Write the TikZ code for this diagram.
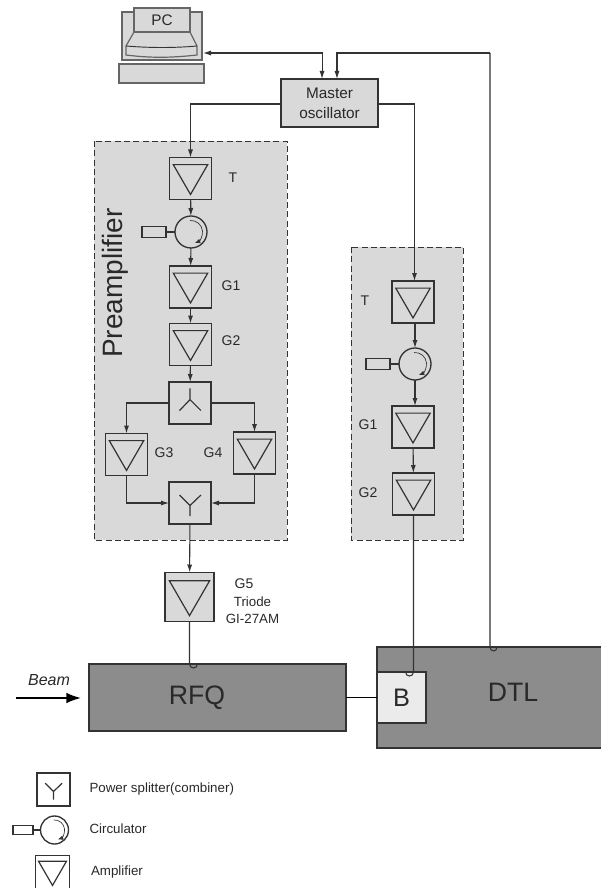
\documentclass[tikz,border=0pt]{standalone}
\usepackage{fontspec}
\setmainfont{Liberation Sans}
\usetikzlibrary{arrows.meta}
\definecolor{panel}{HTML}{D9D9D9}
\definecolor{cavity}{HTML}{8C8C8C}
\definecolor{ink}{HTML}{333333}
\begin{document}
\begin{tikzpicture}[
    x=0.75pt, y=-0.75pt,
    font=\fontsize{10.5}{12}\selectfont,
    every node/.style={text=ink!80!black, inner sep=0pt, outer sep=0pt},
    block/.style={rectangle, draw=ink, line width=1pt, fill=panel},
    amp/.style={block, minimum size=#1*0.75pt, path picture={
        \draw[ink, line width=0.9pt, line join=miter, shift={(path picture bounding box.center)}, x=#1*0.75pt, y=#1*0.75pt]
            (-.41,.33) -- (.41,.33) -- (0,-.38) -- cycle;}},
    amp/.default=42,
    combiner/.style={block, minimum size=#1*0.75pt, path picture={
        \draw[ink, line width=0.9pt, shift={(path picture bounding box.center)}, x=#1*0.75pt, y=#1*0.75pt]
            (-.25,.19) -- (0,-.06) -- (.26,.19) (0,-.06) -- (0,-.31);}},
    combiner/.default=42,
    splitter/.style={block, minimum size=#1*0.75pt, path picture={
        \draw[ink, line width=0.9pt, shift={(path picture bounding box.center)}, x=#1*0.75pt, y=#1*0.75pt]
            (-.25,-.18) -- (0,.08) -- (.26,-.18) (0,.08) -- (0,.35);}},
    splitter/.default=42,
    circulator/.style={block, circle, minimum size=#1*0.75pt, path picture={
        \draw[ink, line width=0.5pt, -{Latex[length=4pt,width=3.5pt]}, shift={(path picture bounding box.center)}, x=#1*0.75pt, y=#1*0.75pt]
            (95:.36) arc (95:-70:.36);}},
    circulator/.default=32,
    load/.style={block, line width=0.8pt, minimum width=#1*0.75pt, minimum height=#1*0.33pt},
    load/.default=24,
    cavitybox/.style={block, fill=cavity},
    group/.style={draw=ink, dash pattern=on 4.5pt off 2.5pt, line width=0.7pt, fill=panel},
    wire/.style={draw=ink, line width=0.8pt},
    arrow/.style={wire, -{Latex[length=6pt,width=3.8pt]}},
    pcpart/.style={block, draw=ink!75, line width=0.9pt},
    legend/.style={fill=white},
    bigtext/.style={font=\fontsize{20}{24}\selectfont}
]
\useasboundingbox (0,0) rectangle (600,888);

% Dashed groups
\draw[group] (94,141) rectangle (287,540);
\draw[group] (351,247) rectangle (463,540);

% PC
\node[pcpart, minimum width=80*0.75pt, minimum height=48*0.75pt] (pc) at (162,36) {};
\draw[pcpart] (134,32) -- (190,32) -- (197,46) -- (197,55) .. controls (170,58) and (150,58) .. (126,55) -- (126,46) -- cycle;
\draw[ink, line width=0.7pt] (126,46) .. controls (150,48) and (175,48) .. (197,46);
\node[pcpart, minimum width=56*0.75pt, minimum height=24*0.75pt, font=\fontsize{11.5}{12}\selectfont] (screen) at (162,20) {PC};
\node[pcpart, minimum width=85*0.75pt, minimum height=19*0.75pt] (keys) at (161.5,73.5) {};
\coordinate (pcport) at (203,53);

% Master oscillator
\node[block, minimum width=97*0.75pt, minimum height=48*0.75pt, align=center, font=\fontsize{11.5}{15}\selectfont] (master) at (329.5,103) {Master\\oscillator};

% Preamplifier chain
\node[amp]  (T) at (190.5,178.5) {};
\node[circulator] (C) at (191,232) {};
\node[load] (L) at (154,232) {};
\node[amp]  (G1) at (190.5,287) {};
\node[amp]  (G2) at (190.5,344.5) {};
\node[splitter] (S) at (190,403) {};
\node[amp]  (G3) at (126.5,454.5) {};
\node[amp]  (G4) at (254.5,453) {};
\node[combiner] (M) at (190,503) {};
\node[amp=49] (G5) at (189.5,597) {};

\node (lT) at (233,178) {T};
\node (lG1) at (231,286) {G1};
\node (lG2) at (231,341) {G2};
\node (lG3) at (164,453) {G3};
\node (lG4) at (213,453) {G4};
\node[rotate=90, font=\fontsize{21}{24}\selectfont] (lPre) at (115,283) {Preamplifier};
\node (lG5) at (244,584) {G5};
\node[align=center, font=\fontsize{10}{12.75}\selectfont] (lTri) at (252.5,610.5) {Triode\\GI-27AM};

% Second chain
\node[amp]  (TB) at (413,302) {};
\node[circulator] (CB) at (415,364) {};
\node[load] (LB) at (378,364) {};
\node[amp]  (G1B) at (413,427) {};
\node[amp]  (G2B) at (413.5,494) {};

\node (lTB) at (365,301) {T};
\node (lG1B) at (368,425) {G1};
\node (lG2B) at (368,493) {G2};

% Cavities
\node[cavitybox, minimum width=257*0.75pt, minimum height=67*0.75pt] (rfq) at (217.5,697.5) {};
\node[bigtext] (lrfq) at (197,698) {RFQ};
\node[cavitybox, minimum width=228*0.75pt, minimum height=101*0.75pt] (dtl) at (491,697.5) {};
\node[bigtext] (ldtl) at (513,692) {DTL};
\node[block, fill=black!8, minimum width=49*0.75pt, minimum height=51*0.75pt, font=\fontsize{19}{24}\selectfont] (buncher) at (401.5,697.5) {B};
\node[font=\fontsize{12}{14}\selectfont\itshape] (lbeam) at (49,680) {Beam};
\coordinate (beamin) at (16,698);
\coordinate (beamout) at (81,698);

% Connectors
\coordinate (turnA) at (190.5,104);
\coordinate (turnB) at (414.5,104);
\coordinate (turnC) at (490,53);
\draw[arrow, {Latex[length=6pt,width=3.8pt]}-{Latex[length=6pt,width=3.8pt]}] (pcport) -| ([xshift=-5.6pt]master.north);
\draw[arrow] (turnC) -- ([xshift=5.6pt]master.north |- turnC) -- ([xshift=5.6pt]master.north);
\draw[wire] (turnC) -- (turnC |- dtl.north) .. controls +(0,5.3) and +(0,5.3) .. +(7,0);
\draw[arrow] (master.west |- turnA) -- (turnA) -- (turnA |- T.north);
\draw[arrow] (master.east |- turnB) -- (turnB) -- (turnB |- TB.north);

\draw[arrow] (T) -- (C);
\draw[wire] (L) -- (C);
\draw[arrow] (C) -- (G1);
\draw[arrow] (G1) -- (G2);
\draw[arrow] (G2) -- (S);
\draw[arrow] (S.west) -| (G3.north);
\draw[arrow] (S.east) -| (G4.north);
\draw[arrow] (G3.south) |- (M.west);
\draw[arrow] (G4.south) |- (M.east);
\draw[arrow] (M) -- (G5);
\draw[wire] (G5.south) -- (G5.south |- rfq.north) .. controls +(0,5.3) and +(0,5.3) .. +(8,0);

\draw[arrow] (TB.south -| CB) -- (CB);
\draw[wire] (LB) -- (CB);
\draw[arrow] (CB) -- (CB |- G1B.north);
\draw[arrow] (G1B) -- (G2B);
\draw[wire] (G2B.south) -- (G2B.south |- buncher.north) .. controls +(0,5.3) and +(0,5.3) .. +(-8,0);

\draw[draw=black, line width=1.3pt] (rfq.east) -- (buncher.west);
\draw[draw=black, line width=1.3pt, -{Latex[length=11pt,width=8pt]}] (beamin) -- (beamout);

% Legend
\node[combiner=33, legend] (legY) at (53.5,789.5) {};
\node[circulator=28, legend] (legC) at (54.5,830) {};
\node[load=20, legend] (legL) at (23,830) {};
\node[amp=34, legend] (legA) at (52.5,872.5) {};
\draw[wire] (legL) -- (legC);
\node[anchor=west, font=\fontsize{10}{12}\selectfont] (txtY) at (89.5,789) {Power splitter(combiner)};
\node[anchor=west, font=\fontsize{10}{12}\selectfont] (txtC) at (89.5,829) {Circulator};
\node[anchor=west, font=\fontsize{10}{12}\selectfont] (txtA) at (91,872) {Amplifier};

\end{tikzpicture}
\end{document}
